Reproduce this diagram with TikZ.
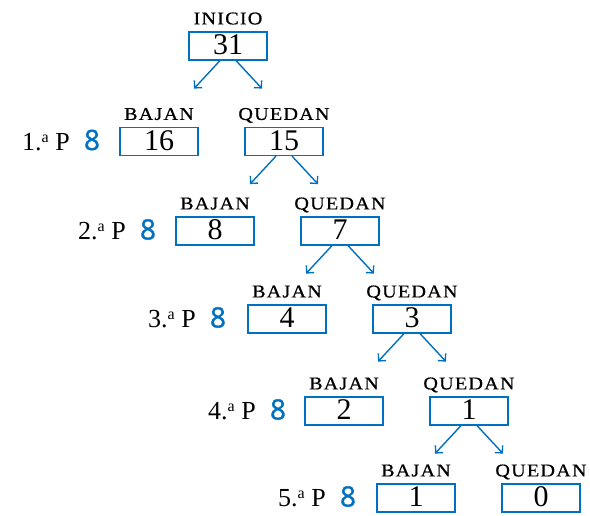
\documentclass[tikz,border=0pt]{standalone}
\usepackage{fontspec}
\usepackage{graphicx}
\setmainfont{Liberation Serif}
\newfontfamily\eightfont[FakeBold=1.2]{Open Sans}
\newfontfamily\capfont[LetterSpace=6,FakeBold=0.6]{Liberation Serif}
\usetikzlibrary{arrows.meta}
\definecolor{bl}{RGB}{0,112,192}
\newcommand{\caplbl}[1]{\scalebox{1.12}[1]{#1}}
\begin{document}
\begin{tikzpicture}[x=1pt,y=-1pt,
  numbox/.style={draw=bl, line width=1.2pt, minimum width=78pt, minimum height=28pt, inner sep=0pt, text height=17pt, text depth=0pt, font=\fontsize{30}{30}\selectfont},
  lbl/.style={anchor=base, inner sep=0pt, yshift=7pt, font=\capfont\fontsize{18}{18}\selectfont},
  rowlbl/.style={anchor=base east, inner sep=0pt, font=\fontsize{26}{26}\selectfont},
  eight/.style={anchor=base, inner sep=0pt, text=bl, font=\eightfont\fontsize{28}{28}\selectfont},
  arr/.style={draw=bl, line width=1.4pt, -{Straight Barb[angle=90:7.5pt]}}]
\useasboundingbox (0,0) rectangle (590,515);
% row 0
\node[numbox] (q0) at (228,46) {31};
\node[lbl] (t0) at (q0.north) {\caplbl{INICIO}};
% rows
\foreach \i/\bx/\qx/\y/\b/\q/\ex in {1/159/284/141.5/16/15/92, 2/215/340/231/8/7/148, 3/287/412/319/4/3/218, 4/344/469/411/2/1/278, 5/416/541/498/1/0/348}{
  \node[numbox] (b\i) at (\bx,\y) {\b};
  \node[numbox] (q\i) at (\qx,\y) {\q};
  \node[lbl] (tb\i) at (b\i.north) {\caplbl{BAJAN}};
  \node[lbl] (tq\i) at (q\i.north) {\caplbl{QUEDAN}};
  \node[eight] (e\i) at (\ex,\y+8.5) {8};
  \node[rowlbl] (r\i) at (\ex-22,\y+8.5) {\i.\raisebox{0.3em}{\fontsize{16}{16}\selectfont a} P};
}
% arrows
\foreach \i in {0,1,2,3,4}{
  \coordinate (l\i) at ([xshift=-34pt,yshift=-28pt]q\i.south);
  \coordinate (r\i) at ([xshift=34pt,yshift=-28pt]q\i.south);
  \draw[arr] ([xshift=-8pt]q\i.south) -- (l\i);
  \draw[arr] ([xshift=8pt]q\i.south) -- (r\i);
}
\end{tikzpicture}
\end{document}
